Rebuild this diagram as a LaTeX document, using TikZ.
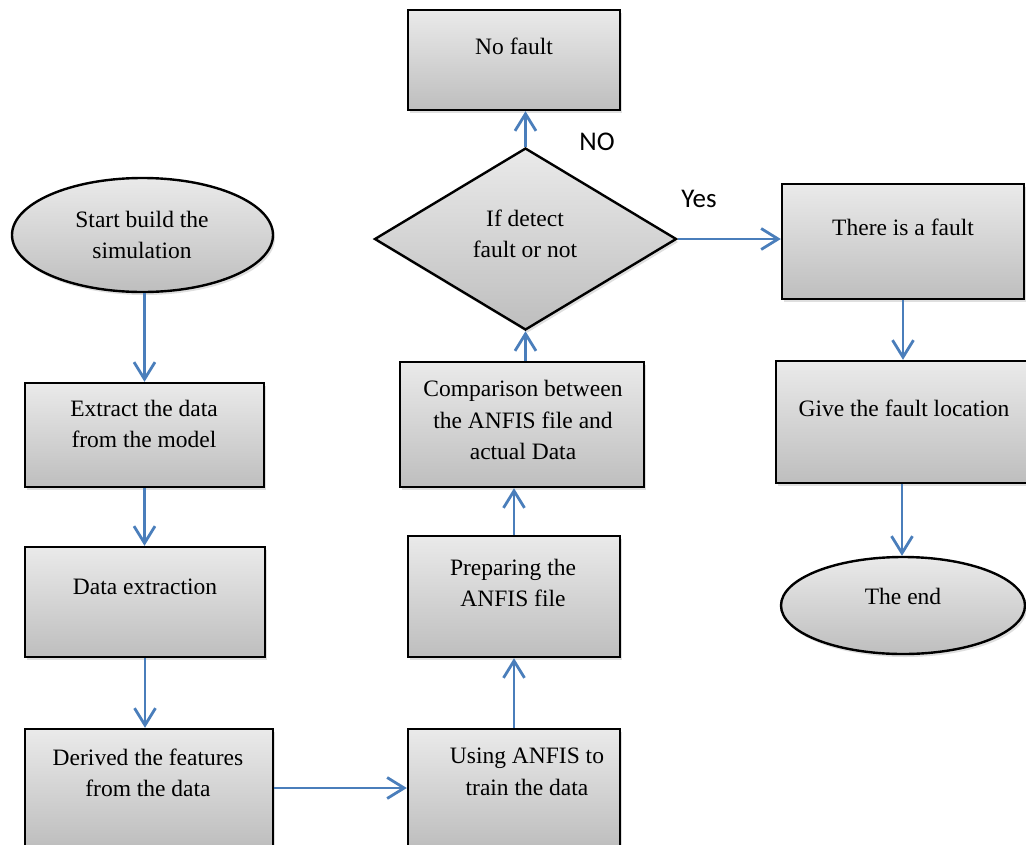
\documentclass[tikz,border=0pt]{standalone}
\usepackage{fontspec}
\setmainfont{Liberation Serif}
\newfontfamily\labelfont{Carlito}
\usetikzlibrary{shapes.geometric,arrows.meta,shadows}

\definecolor{flowblue}{HTML}{4A7EBB}
\definecolor{shadetop}{HTML}{EAEAEA}
\definecolor{shadebot}{HTML}{BEBEBE}

\tikzset{
  shell/.style={draw=black, line width=2.4pt, top color=shadetop, bottom color=shadebot,
    inner sep=0pt, drop shadow={opacity=0.25, shadow xshift=2pt, shadow yshift=-3pt}},
  procbox/.style={shell, rectangle},
  termbox/.style={shell, ellipse},
  decbox/.style={shell, diamond},
  txt/.style={font=\fontsize{23.5}{31.5}\selectfont, align=center, inner sep=0pt, anchor=center},
  yesno/.style={font=\labelfont\fontsize{27}{30}\selectfont, inner sep=0pt},
  arr/.style={draw=flowblue, line width=2.8pt,
    -{Straight Barb[length=17pt, width=21pt, line width=2.8pt]}}
}

\begin{document}
\begin{tikzpicture}[x=1pt, y=-1pt]
  \useasboundingbox (0,0) rectangle (1026,844);
  \clip (0,0) rectangle (1026,844);

  % terminals
  \node[termbox, minimum width=261pt, minimum height=114pt] (start) at (142.5,235) {};
  \node[termbox, minimum width=244pt, minimum height=97pt] (finish) at (903,605.5) {};

  % left column
  \node[procbox, minimum width=239pt, minimum height=104pt] (extract) at (144.5,435) {};
  \node[procbox, minimum width=240pt, minimum height=110pt] (dataext) at (145,602) {};
  \node[procbox, minimum width=248pt, minimum height=118pt] (derived) at (149,788) {};

  % middle column
  \node[procbox, minimum width=212pt, minimum height=118pt] (using) at (514,788) {};
  \node[procbox, minimum width=212pt, minimum height=121pt] (prepare) at (514,596.5) {};
  \node[procbox, minimum width=244pt, minimum height=125pt] (compare) at (522,424.5) {};
  \node[decbox, minimum width=302pt, minimum height=182pt] (decide) at (525.5,239) {};
  \node[procbox, minimum width=212pt, minimum height=100pt] (nofault) at (514,60) {};

  % right column
  \node[procbox, minimum width=242pt, minimum height=115pt] (isfault) at (903,241.5) {};
  \node[procbox, minimum width=252pt, minimum height=122pt] (locate) at (902,422) {};

  % texts
  \node[txt] (t-start) at (142,235) {Start build the\\simulation};
  \node[txt] (t-extract) at (144,424) {Extract the data\\from the model};
  \node[txt] (t-dataext) at (145,587) {Data extraction};
  \node[txt] (t-derived) at (148,773) {Derived the features\\from the data};
  \node[txt] (t-using) at (527,772) {Using ANFIS to\\train the data};
  \node[txt] (t-prepare) at (513,583) {Preparing the\\ANFIS file};
  \node[txt] (t-compare) at (523,420) {Comparison between\\the ANFIS file and\\actual Data};
  \node[txt] (t-decide) at (525,234) {If detect\\fault or not};
  \node[txt] (t-nofault) at (514,46) {No fault};
  \node[txt] (t-isfault) at (903,227) {There is a fault};
  \node[txt] (t-locate) at (904,408) {Give the fault location};
  \node[txt] (t-finish) at (903,596) {The end};

  % branch labels
  \node[yesno] (l-no) at (597,142) {NO};
  \node[yesno] (l-yes) at (699,199) {Yes};

  % connectors
  \draw[arr] (start.south -| extract.north) -- (extract.north);
  \draw[arr] (extract.south) -- (extract.south |- dataext.north);
  \draw[arr] (dataext.south) -- (dataext.south |- derived.north);
  \draw[arr] (derived.east) -- (using.west);
  \draw[arr] (using.north) -- (using.north |- prepare.south);
  \draw[arr] (prepare.north) -- (prepare.north |- compare.south);
  \draw[arr] (compare.north -| decide.south) -- (decide.south);
  \draw[arr] (decide.north) -- (decide.north |- nofault.south);
  \draw[arr] (decide.east) -- (decide.east -| isfault.west);
  \draw[arr] (isfault.south) -- (isfault.south |- locate.north);
  \draw[arr] (locate.south) -- (locate.south |- finish.north);
\end{tikzpicture}
\end{document}
